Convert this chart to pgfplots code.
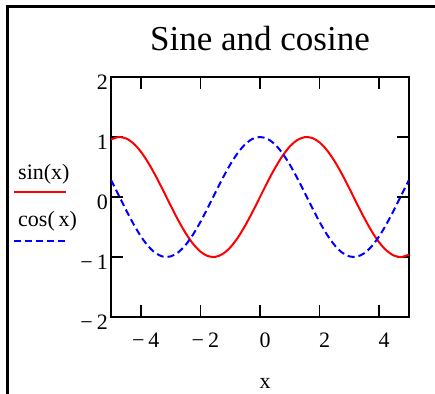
\documentclass[border=0pt]{standalone}
\usepackage{pgfplots}
\usepackage{pgfplotstable}
\pgfplotsset{compat=1.18}
\usepackage{fontspec}
\setmainfont{Liberation Serif}
\pgfplotstableread{
x s c
-5.00 0.9589 0.2837
-4.75 0.9993 0.0376
-4.50 0.9775 -0.2108
-4.25 0.8950 -0.4461
-4.00 0.7568 -0.6536
-3.75 0.5716 -0.8206
-3.50 0.3508 -0.9365
-3.25 0.1082 -0.9941
-3.00 -0.1411 -0.9900
-2.75 -0.3817 -0.9243
-2.50 -0.5985 -0.8011
-2.25 -0.7781 -0.6282
-2.00 -0.9093 -0.4161
-1.75 -0.9840 -0.1782
-1.50 -0.9975 0.0707
-1.25 -0.9490 0.3153
-1.00 -0.8415 0.5403
-0.75 -0.6816 0.7317
-0.50 -0.4794 0.8776
-0.25 -0.2474 0.9689
0.00 0.0000 1.0000
0.25 0.2474 0.9689
0.50 0.4794 0.8776
0.75 0.6816 0.7317
1.00 0.8415 0.5403
1.25 0.9490 0.3153
1.50 0.9975 0.0707
1.75 0.9840 -0.1782
2.00 0.9093 -0.4161
2.25 0.7781 -0.6282
2.50 0.5985 -0.8011
2.75 0.3817 -0.9243
3.00 0.1411 -0.9900
3.25 -0.1082 -0.9941
3.50 -0.3508 -0.9365
3.75 -0.5716 -0.8206
4.00 -0.7568 -0.6536
4.25 -0.8950 -0.4461
4.50 -0.9775 -0.2108
4.75 -0.9993 0.0376
5.00 -0.9589 0.2837
}\data
\begin{document}
\begin{tikzpicture}
\path[use as bounding box] (0,0) rectangle (435bp,-394bp);
\draw[line width=2.5bp] (7.7bp,-394bp) -- (7.7bp,-6.5bp) -- (435bp,-6.5bp);
\begin{axis}[
  at={(111bp,-317bp)}, anchor=south west,
  scale only axis, width=298bp, height=240bp,
  xmin=-5, xmax=5, ymin=-2, ymax=2,
  xtick={-4,-2,0,2,4},
  xticklabels={−\hspace{4bp}4,−\hspace{4bp}2,0,2,4},
  ytick={-2,-1,0,1,2},
  yticklabels={−\hspace{4bp}2,−\hspace{4bp}1,0,1,2},
  tick align=inside, major tick length=12bp,
  every tick/.style={black, line width=1.5bp},
  axis line style={line width=2bp},
  ticklabel style={font=\fontsize{22bp}{26bp}\selectfont},
  yticklabel style={anchor=base east, inner sep=0pt, yshift=-12bp, xshift=-3bp},
  xticklabel style={anchor=base, inner sep=0pt, yshift=-30bp, xshift=5bp},
  every axis title/.style={at={(axis description cs:0.5,1)}, anchor=base, inner sep=0pt, yshift=27bp, font=\fontsize{35bp}{40bp}\selectfont},
  title={Sine and cosine},
  xlabel={x},
  every axis x label/.style={at={(axis description cs:0.5,0)}, anchor=base, inner sep=0pt, yshift=-71bp, xshift=5bp, font=\fontsize{22bp}{26bp}\selectfont},
]
\addplot[red, line width=2bp, smooth] table[x=x, y=s] {\data};
\addplot[blue, line width=2bp, dash pattern=on 7bp off 4bp, smooth] table[x=x, y=c] {\data};
\end{axis}
\draw[red, line width=2bp] (14bp,-192bp) -- (66bp,-192bp);
\draw[blue, line width=2bp, dash pattern=on 7bp off 4bp] (14bp,-241bp) -- (66bp,-241bp);
\node[anchor=base west, inner sep=0pt, font=\fontsize{22bp}{26bp}\selectfont] at (18bp,-179bp) {sin(x)};
\node[anchor=base west, inner sep=0pt, font=\fontsize{22bp}{26bp}\selectfont] at (18bp,-226bp) {cos(\,x)};
\end{tikzpicture}
\end{document}
